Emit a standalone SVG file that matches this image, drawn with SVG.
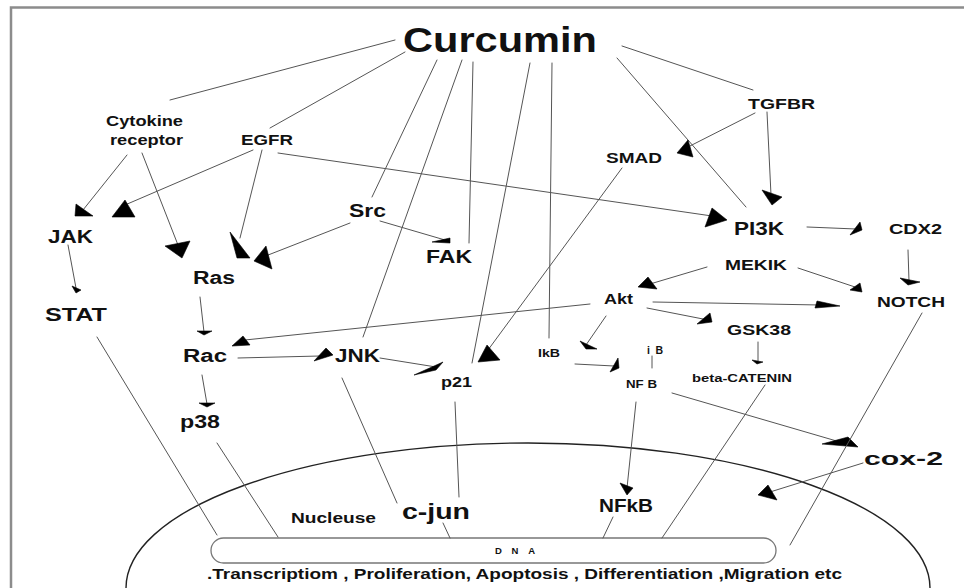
<svg xmlns="http://www.w3.org/2000/svg" width="964" height="588" viewBox="0 0 964 588">
<style>
.bg{fill:#ffffff}
.frame{stroke:#8c8c8c;stroke-width:2.5;fill:none}
.ln{stroke:#555555;stroke-width:1;fill:none;stroke-linecap:round}
.hd{fill:#000000;stroke:#000000;stroke-width:0.6;stroke-linejoin:round}
.nuc{stroke:#222222;stroke-width:1.4;fill:none}
.dna{stroke:#777777;stroke-width:1.3;fill:#ffffff}
text{font-family:"Liberation Sans",Arial,Helvetica,sans-serif;font-weight:bold;fill:#111111}
.xl{font-size:35px}
.l{font-size:19px}
.m{font-size:17.5px}
.s{font-size:14px}
.xs{font-size:10.5px}
</style>
<rect class="bg" x="0" y="0" width="964" height="588"/>
<path class="frame" d="M11,588 V7.5 H964"/>

<g id="nucleus">
<ellipse class="nuc" cx="528" cy="588" rx="402" ry="145"/>
<rect class="dna" x="211" y="538" width="565" height="25" rx="12.5" ry="12.5"/>
<text x="495" y="554" font-size="9.5" textLength="40" lengthAdjust="spacing">DNA</text>
<text x="291" y="523" class="s" textLength="85" lengthAdjust="spacingAndGlyphs">Nucleuse</text>
<text x="207" y="579" font-size="15.5" textLength="635" lengthAdjust="spacingAndGlyphs">.Transcriptiom , Proliferation, Apoptosis , Differentiation ,Migration etc</text>
</g>

<g id="connectors">
<line class="ln" x1="395" y1="40" x2="170" y2="100"/>
<line class="ln" x1="405" y1="52" x2="270" y2="128"/>
<line class="ln" x1="437" y1="60" x2="372" y2="197"/>
<line class="ln" x1="462" y1="60" x2="363" y2="337"/>
<line class="ln" x1="473" y1="62" x2="469" y2="243"/>
<line class="ln" x1="530" y1="63" x2="472" y2="363"/>
<line class="ln" x1="552" y1="63" x2="549" y2="338"/>
<line class="ln" x1="622" y1="46" x2="753" y2="90"/>
<line class="ln" x1="617" y1="58" x2="746" y2="207"/>
<line class="ln" x1="127" y1="155" x2="83" y2="210"/>
<polygon class="hd" points="76,204 93,216 75,216"/>
<line class="ln" x1="142" y1="153" x2="178" y2="245"/>
<polygon class="hd" points="165,246 190,241 182,258"/>
<line class="ln" x1="253" y1="150" x2="125" y2="205"/>
<polygon class="hd" points="125,200 135,217 112,217"/>
<line class="ln" x1="262" y1="150" x2="240" y2="238"/>
<polygon class="hd" points="230,232 250,258 237,258"/>
<line class="ln" x1="278" y1="153" x2="712" y2="216"/>
<polygon class="hd" points="705,227 712,208 727,220"/>
<line class="ln" x1="350" y1="223" x2="263" y2="257"/>
<polygon class="hd" points="254,261 266,246 272,269"/>
<line class="ln" x1="380" y1="221" x2="445" y2="240"/>
<polygon class="hd" points="432,242 450,238 450,243"/>
<line class="ln" x1="68" y1="245" x2="76" y2="288"/>
<polygon class="hd" points="72,286 81,290 76,293"/>
<line class="ln" x1="200" y1="297" x2="204" y2="332"/>
<polygon class="hd" points="197,331 212,331 204,335"/>
<line class="ln" x1="202" y1="375" x2="207" y2="404"/>
<polygon class="hd" points="199,403 215,403 207,407"/>
<line class="ln" x1="238" y1="358" x2="320" y2="356"/>
<polygon class="hd" points="314,361 326,348 333,355"/>
<line class="ln" x1="590" y1="304" x2="245" y2="340"/>
<polygon class="hd" points="232,346 243,336 250,345"/>
<line class="ln" x1="380" y1="358" x2="436" y2="367"/>
<polygon class="hd" points="414,375 443,362 436,370"/>
<line class="ln" x1="622" y1="168" x2="488" y2="350"/>
<polygon class="hd" points="478,362 487,345 500,360"/>
<line class="ln" x1="755" y1="113" x2="688" y2="147"/>
<polygon class="hd" points="677,153 688,140 693,157"/>
<line class="ln" x1="767" y1="112" x2="771" y2="195"/>
<polygon class="hd" points="762,190 782,197 772,205"/>
<line class="ln" x1="807" y1="227" x2="856" y2="229"/>
<polygon class="hd" points="850,235 860,222 862,230"/>
<line class="ln" x1="908" y1="250" x2="909" y2="281"/>
<polygon class="hd" points="900,278 920,282 908,285"/>
<line class="ln" x1="707" y1="267" x2="650" y2="284"/>
<polygon class="hd" points="638,287 648,277 657,289"/>
<line class="ln" x1="798" y1="268" x2="855" y2="287"/>
<polygon class="hd" points="850,290 860,283 862,292"/>
<line class="ln" x1="653" y1="302" x2="820" y2="305"/>
<polygon class="hd" points="815,308 817,301 840,306"/>
<line class="ln" x1="647" y1="308" x2="703" y2="319"/>
<polygon class="hd" points="697,324 710,313 712,322"/>
<line class="ln" x1="606" y1="316" x2="586" y2="345"/>
<polygon class="hd" points="580,341 597,349 586,349"/>
<line class="ln" x1="575" y1="364" x2="614" y2="366"/>
<polygon class="hd" points="610,372 618,358 619,368"/>
<line class="ln" x1="652" y1="356" x2="652" y2="368"/>
<line class="ln" x1="758" y1="342" x2="758" y2="361"/>
<polygon class="hd" points="752,360 763,362 757,364"/>
<line class="ln" x1="636" y1="402" x2="627" y2="488"/>
<polygon class="hd" points="620,483 633,488 627,495"/>
<line class="ln" x1="672" y1="393" x2="840" y2="442"/>
<polygon class="hd" points="822,444 848,437 858,447"/>
<line class="ln" x1="863" y1="463" x2="770" y2="492"/>
<polygon class="hd" points="758,495 768,485 777,500"/>
<line class="ln" x1="922" y1="313" x2="790" y2="545"/>
<line class="ln" x1="765" y1="385" x2="662" y2="538"/>
<line class="ln" x1="97" y1="337" x2="217" y2="535"/>
<line class="ln" x1="217" y1="443" x2="278" y2="537"/>
<line class="ln" x1="342" y1="378" x2="397" y2="503"/>
<line class="ln" x1="455" y1="402" x2="459" y2="497"/>
<line class="ln" x1="443" y1="523" x2="450" y2="538"/>
<line class="ln" x1="613" y1="517" x2="603" y2="538"/>
</g>

<g id="n-curcumin"><text x="403" y="52" class="xl" textLength="194" lengthAdjust="spacingAndGlyphs">Curcumin</text></g>
<g id="n-cytokine"><text x="106" y="126" class="s" textLength="77" lengthAdjust="spacingAndGlyphs">Cytokine</text><text x="110" y="145" class="s" textLength="73" lengthAdjust="spacingAndGlyphs">receptor</text></g>
<g id="n-egfr"><text x="241" y="145" class="s" textLength="52" lengthAdjust="spacingAndGlyphs">EGFR</text></g>
<g id="n-tgfbr"><text x="748" y="109" class="s" textLength="67" lengthAdjust="spacingAndGlyphs">TGFBR</text></g>
<g id="n-smad"><text x="606" y="163" class="s" textLength="56" lengthAdjust="spacingAndGlyphs">SMAD</text></g>
<g id="n-src"><text x="349" y="217" class="m" textLength="37" lengthAdjust="spacingAndGlyphs">Src</text></g>
<g id="n-jak"><text x="48" y="243" class="m" textLength="45" lengthAdjust="spacingAndGlyphs">JAK</text></g>
<g id="n-fak"><text x="426" y="263" class="m" textLength="46" lengthAdjust="spacingAndGlyphs">FAK</text></g>
<g id="n-pi3k"><text x="734" y="235" class="m" textLength="50" lengthAdjust="spacingAndGlyphs">PI3K</text></g>
<g id="n-cdx2"><text x="889" y="234" class="s" textLength="53" lengthAdjust="spacingAndGlyphs">CDX2</text></g>
<g id="n-ras"><text x="193" y="284" class="m" textLength="42" lengthAdjust="spacingAndGlyphs">Ras</text></g>
<g id="n-mekik"><text x="725" y="270" class="s" textLength="62" lengthAdjust="spacingAndGlyphs">MEKIK</text></g>
<g id="n-stat"><text x="45" y="321" class="l" textLength="62" lengthAdjust="spacingAndGlyphs">STAT</text></g>
<g id="n-akt"><text x="604" y="304" class="s" textLength="29" lengthAdjust="spacingAndGlyphs">Akt</text></g>
<g id="n-notch"><text x="877" y="307" class="s" textLength="68" lengthAdjust="spacingAndGlyphs">NOTCH</text></g>
<g id="n-gsk38"><text x="727" y="335" class="s" textLength="64" lengthAdjust="spacingAndGlyphs">GSK38</text></g>
<g id="n-rac"><text x="183" y="362" class="m" textLength="44" lengthAdjust="spacingAndGlyphs">Rac</text></g>
<g id="n-jnk"><text x="335" y="362" class="m" textLength="45" lengthAdjust="spacingAndGlyphs">JNK</text></g>
<g id="n-ikb"><text x="538" y="357" class="xs" textLength="22" lengthAdjust="spacingAndGlyphs">IkB</text></g>
<g id="n-ib"><text x="647" y="354" class="xs" textLength="16" lengthAdjust="spacing">i B</text></g>
<g id="n-nfb"><text x="626" y="388" class="xs" textLength="31" lengthAdjust="spacingAndGlyphs">NF B</text></g>
<g id="n-p21"><text x="441" y="387" class="s" textLength="31" lengthAdjust="spacingAndGlyphs">p21</text></g>
<g id="n-catenin"><text x="692" y="382" font-size="11.5" textLength="100" lengthAdjust="spacingAndGlyphs">beta-CATENIN</text></g>
<g id="n-p38"><text x="180" y="428" class="m" textLength="40" lengthAdjust="spacingAndGlyphs">p38</text></g>
<g id="n-cox2"><text x="864" y="465" class="l" textLength="79" lengthAdjust="spacingAndGlyphs">cox-2</text></g>
<g id="n-nfkb"><text x="599" y="512" class="m" textLength="54" lengthAdjust="spacingAndGlyphs">NFkB</text></g>
<g id="n-cjun"><text x="402" y="519" font-size="22" textLength="68" lengthAdjust="spacingAndGlyphs">c-jun</text></g>
</svg>
